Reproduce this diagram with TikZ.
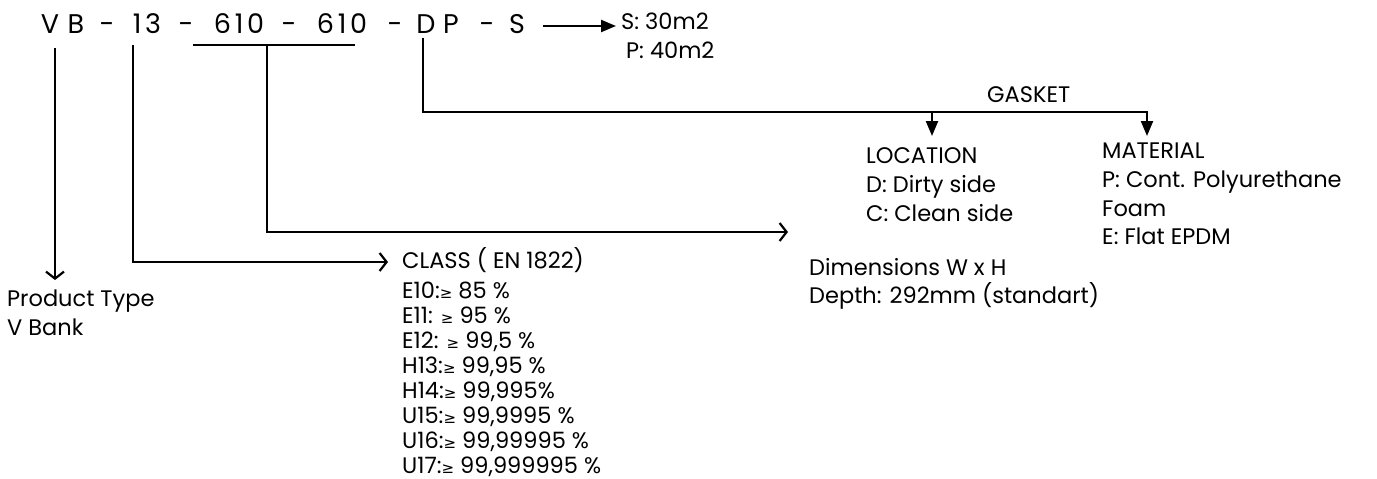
\documentclass[tikz,border=0pt]{standalone}
\usepackage{fontspec}
\setmainfont{Poppins}
\newfontfamily\codef[LetterSpace=14]{Poppins}
\newfontfamily\symf{DejaVu Sans}
\newcommand{\gesym}{{\symf\fontsize{15}{15}\selectfont ≥}}
\usetikzlibrary{arrows.meta}
\begin{document}
\begin{tikzpicture}[x=1pt,y=-1pt,
  code/.style={font=\codef\fontsize{27}{30}\selectfont, inner sep=0pt, anchor=base},
  lbl/.style={font=\fontsize{22.5}{25}\selectfont, inner sep=0pt, anchor=base west},
  wire/.style={line width=2.2pt, line join=miter},
  openarrow/.style={wire, -{Straight Barb[length=7pt,width=18pt,line width=2.2pt]}},
  solidarrow/.style={wire, -{Triangle[length=15pt,width=12pt]}},
]
\fill[white] (0,0) rectangle (1377,479);
\useasboundingbox (0,0) rectangle (1377,479);

% code tokens
\node[code] (cV)  at (50,33) {V};
\node[code] (cB)  at (76,33) {B};
\node[code] (d1)  at (107,33) {-};
\node[code] (c13) at (147,33) {13};
\node[code] (d2)  at (186,33) {-};
\node[code] (cA)  at (239,33) {610};
\node[code] (d3)  at (289,33) {-};
\node[code] (cW)  at (342,33) {610};
\node[code] (d4)  at (395,33) {-};
\node[code] (cD)  at (426,33) {D};
\node[code] (cP)  at (451,33) {P};
\node[code] (d5)  at (487,33) {-};
\node[code] (cS)  at (517,33) {S};

% labels
\node[lbl] (s30) at (621,30) {S: 30m2};
\node[lbl] (p40) at (626,58) {P: 40m2};
\node[lbl] (gasket) at (987,102) {GASKET};
\node[lbl] (loc)  at (866,163) {LOCATION};
\node[lbl] (loc1) at (866,192) {D: Dirty side};
\node[lbl] (loc2) at (866,221) {C: Clean side};
\node[lbl] (mat)  at (1102,158) {MATERIAL};
\node[lbl] (mat1) at (1102,187) {P: Cont. Polyurethane};
\node[lbl] (mat2) at (1102,216) {Foam};
\node[lbl] (mat3) at (1102,244) {E: Flat EPDM};
\node[lbl] (dim1) at (809,275) {Dimensions W x H};
\node[lbl] (dim2) at (809,303) {Depth: 292mm (standart)};
\node[lbl] (pt1) at (7,306) {Product Type};
\node[lbl] (pt2) at (7,335) {V Bank};
\node[lbl] (cl0) at (402,268) {CLASS ( EN 1822)};
\node[lbl] (cl1) at (402,298) {E10:\gesym\ 85 \%};
\node[lbl] (cl2) at (402,323) {E11: \gesym\ 95 \%};
\node[lbl] (cl3) at (402,348) {E12: \gesym\ 99,5 \%};
\node[lbl] (cl4) at (402,373) {H13:\gesym\ 99,95 \%};
\node[lbl] (cl5) at (402,398) {H14:\gesym\ 99,995\%};
\node[lbl] (cl6) at (402,423) {U15:\gesym\ 99,9995 \%};
\node[lbl] (cl7) at (402,448) {U16:\gesym\ 99,99995 \%};
\node[lbl] (cl8) at (402,473) {U17:\gesym\ 99,999995 \%};

% junction coordinates
\coordinate (vTop)  at (55,48);
\coordinate (vTip)  at (55,280);
\coordinate (tTop)  at (133,45);
\coordinate (tTip)  at (388,262);
\coordinate (barL)  at (193,45);
\coordinate (barR)  at (355,45);
\coordinate (barM)  at (267,45);
\coordinate (bTip)  at (788,232);
\coordinate (dTop)  at (423,38);
\coordinate (dEnd)  at (1050,112);
\coordinate (gL)    at (932,112);
\coordinate (gR)    at (1147,112);
\coordinate (gLtip) at (932,136);
\coordinate (gRtip) at (1147,136);
\coordinate (sA)    at (543,26);
\coordinate (sB)    at (616,26);

% connectors
\draw[openarrow] (vTop) -- (vTip);
\draw[openarrow] (tTop) |- (tTip);
\draw[wire] (barL) -- (barR);
\draw[openarrow] (barM) |- (bTip);
\draw[wire] (dTop) |- (dEnd);
\draw[solidarrow] (gL) -- (gLtip);
\draw[solidarrow] (gL) -- (gR) -- (gRtip);
\draw[solidarrow] (sA) -- (sB);
\end{tikzpicture}
\end{document}
